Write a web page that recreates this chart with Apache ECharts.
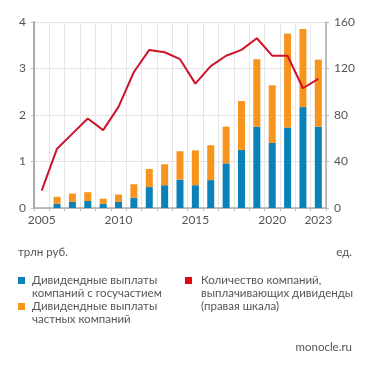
<!DOCTYPE html>
<html><head><meta charset="utf-8">
<script src="https://cdn.jsdelivr.net/npm/echarts@6/dist/echarts.min.js"></script>
<style>html,body{margin:0;padding:0;background:#fff}#c{width:371px;height:371px}</style>
</head><body><div id="c"></div>
<script>
const years = ['2005','2006','2007','2008','2009','2010','2011','2012','2013','2014','2015','2016','2017','2018','2019','2020','2021','2022','2023'];
const stateDiv = [null,0.09,0.13,0.15,0.09,0.13,0.22,0.45,0.49,0.61,0.49,0.60,0.96,1.25,1.75,1.40,1.73,2.17,1.75];
const privateDiv = [null,0.15,0.18,0.19,0.11,0.16,0.29,0.39,0.45,0.61,0.75,0.75,0.79,1.05,1.45,1.24,2.02,1.68,1.44];
const companies = [15,51,64,77,67,87,117,136,134,128,107,122,131,136,146,131,131,103,111];
const leftTicks = [0,1,2,3,4];
const rightTicks = [0,40,80,120,160];
const shownYears = ['2005','2010','2015','2020','2023'];

const FONT = 'Lato, sans-serif';
const TXT = '#555';
const FS = 11.5;
const chart = echarts.init(document.getElementById('c'));
chart.setOption({
  animation:false,
  textStyle:{fontFamily:FONT},
  grid:{left:34,right:45,top:22,bottom:163,containLabel:false},
  xAxis:{type:'category',data:years,boundaryGap:true,
    axisLine:{lineStyle:{color:'#aaa',width:1.5}},
    axisTick:{show:true,interval:0,length:3,lineStyle:{color:'#bbb'}},
    splitLine:{show:true,interval:0,lineStyle:{color:'#e6e6e6',width:1}},
    axisLabel:{interval:(i,v)=>shownYears.includes(v),color:TXT,fontSize:12,fontFamily:FONT,margin:6}},
  yAxis:[
    {type:'value',min:leftTicks[0],max:leftTicks[leftTicks.length-1],interval:1,position:'left',
     axisLine:{show:true,lineStyle:{color:'#aaa',width:2}},
     axisTick:{show:true,length:3,lineStyle:{color:'#bbb'}},
     splitLine:{lineStyle:{color:'#e3e3e3'}},
     axisLabel:{color:TXT,fontSize:12,fontFamily:FONT,margin:8}},
    {type:'value',min:rightTicks[0],max:rightTicks[rightTicks.length-1],interval:40,position:'right',
     axisLine:{show:true,lineStyle:{color:'#aaa',width:1.5}},
     axisTick:{show:true,length:3,lineStyle:{color:'#bbb'}},
     splitLine:{show:false},
     axisLabel:{color:TXT,fontSize:12,fontFamily:FONT,margin:8}}
  ],
  series:[
    {name:'Дивидендные выплаты компаний с госучастием',type:'bar',stack:'d',data:stateDiv,barWidth:7,itemStyle:{color:'#0a82b8'}},
    {name:'Дивидендные выплаты частных компаний',type:'bar',stack:'d',data:privateDiv,barWidth:7,itemStyle:{color:'#f7941e'}},
    {name:'Количество компаний, выплачивающих дивиденды (правая шкала)',type:'line',yAxisIndex:1,data:companies,symbol:'none',
     lineStyle:{color:'#cf1329',width:2}}
  ],
  graphic:[
    {type:'text',left:18,top:246,style:{text:'трлн руб.',fill:TXT,font:FS+'px '+FONT}},
    {type:'text',right:19,top:246,style:{text:'ед.',fill:TXT,font:FS+'px '+FONT}},
    {type:'rect',shape:{x:18,y:277,width:7,height:7},style:{fill:'#0a82b8'}},
    {type:'text',left:32,top:274,style:{text:'Дивидендные выплаты\nкомпаний с госучастием',fill:TXT,font:FS+'px '+FONT,lineHeight:13}},
    {type:'rect',shape:{x:18,y:303,width:7,height:7},style:{fill:'#f7941e'}},
    {type:'text',left:32,top:300,style:{text:'Дивидендные выплаты\nчастных компаний',fill:TXT,font:FS+'px '+FONT,lineHeight:13}},
    {type:'rect',shape:{x:185,y:277,width:7,height:7},style:{fill:'#e30613'}},
    {type:'text',left:201,top:274,style:{text:'Количество компаний,\nвыплачивающих дивиденды\n(правая шкала)',fill:TXT,font:FS+'px '+FONT,lineHeight:13}},
    {type:'text',right:19,top:341,style:{text:'monocle.ru',fill:TXT,font:FS+'px '+FONT}}
  ]
});
</script></body></html>
